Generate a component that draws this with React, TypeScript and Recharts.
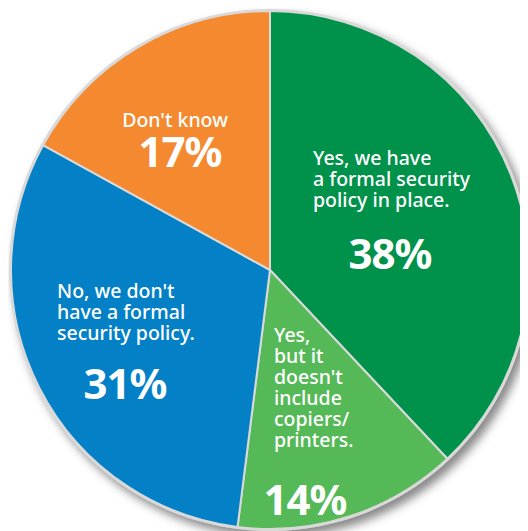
import { Cell, Pie, PieChart } from 'recharts'

const categories = [
  'Yes, we have a formal security policy in place.',
  "Yes, but it doesn't include copiers/printers.",
  "No, we don't have a formal security policy.",
  "Don't know",
]
const shares = [38, 14, 31, 17]
const colors = ['#00914a', '#55b957', '#0380c6', '#f4892f']

// label lines as printed on the slices
const labelLines = [
  ['Yes, we have', 'a formal security', 'policy in place.'],
  ['Yes,', 'but it', "doesn't", 'include', 'copiers/', 'printers.'],
  ["No, we don't", 'have a formal', 'security policy.'],
  ["Don't know"],
]

const data = categories.map((name, i) => ({ name, value: shares[i] }))
const total = [{ name: 'all', value: shares.reduce((a, b) => a + b, 0) }]

// text placement (chart coords), not part of the data
const layout = [
  { x: 305, y: 157, anchor: 'start', pctX: 382, pctY: 261 },
  { x: 266, y: 334, anchor: 'start', pctX: 297, pctY: 507 },
  { x: 49, y: 290, anchor: 'start', pctX: 117, pctY: 391 },
  { x: 167, y: 119, anchor: 'middle', pctX: 172, pctY: 159 },
]

const font = '"Noto Sans", "Open Sans", sans-serif'

function SliceLabel(props: any) {
  const i = props.index
  const l = layout[i]
  return (
    <g>
      {labelLines[i].map((line, k) => (
        <text
          key={k}
          x={l.x}
          y={l.y + k * 21}
          fill="#fff"
          fontFamily={font}
          fontSize={19.5}
          fontWeight={500}
          textAnchor={l.anchor}
        >
          {line}
        </text>
      ))}
      <text
        x={l.pctX}
        y={l.pctY}
        fill="#fff"
        fontFamily={font}
        fontSize={42}
        fontWeight={700}
        textAnchor="middle"
        letterSpacing={-1}
      >
        {shares[i]}%
      </text>
    </g>
  )
}

export default function App() {
  return (
    <div style={{ width: 520, height: 523, background: '#fff' }}>
      <PieChart width={520} height={523} margin={{ top: 0, right: 0, bottom: 0, left: 0 }}>
        <defs>
          <filter id="shadow" x="-20%" y="-20%" width="140%" height="140%">
            <feDropShadow dx="5" dy="6" stdDeviation="5" floodColor="#555" floodOpacity="0.7" />
          </filter>
        </defs>
        <Pie
          data={total}
          dataKey="value"
          cx={262}
          cy={262}
          outerRadius={261}
          startAngle={90}
          endAngle={-270}
          fill="#d9d9d9"
          stroke="none"
          filter="url(#shadow)"
          isAnimationActive={false}
        />
        <Pie
          data={data}
          dataKey="value"
          cx={262}
          cy={262}
          outerRadius={259}
          startAngle={90}
          endAngle={-270}
          stroke="#d9d9d9"
          strokeWidth={2}
          labelLine={false}
          label={SliceLabel}
          isAnimationActive={false}
        >
          {data.map((d, i) => (
            <Cell key={d.name} fill={colors[i]} />
          ))}
        </Pie>
      </PieChart>
    </div>
  )
}
